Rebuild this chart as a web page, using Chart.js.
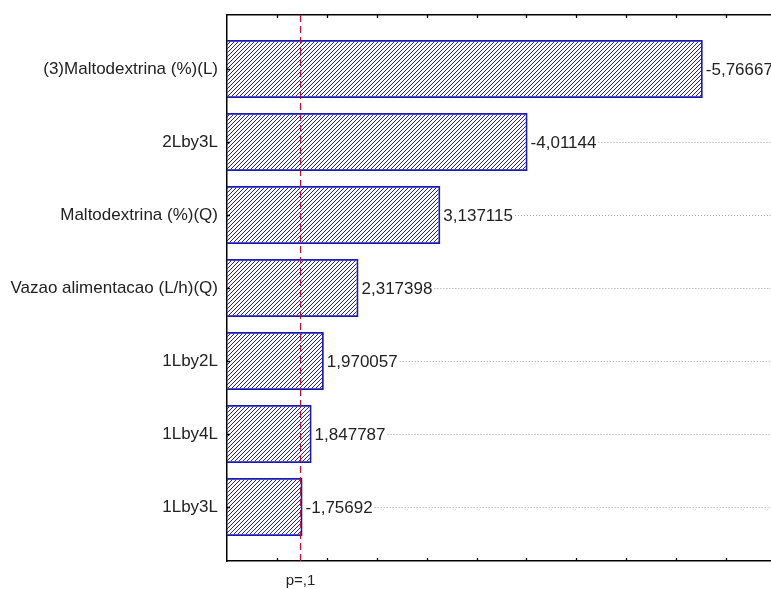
<!DOCTYPE html>
<html>
<head>
<meta charset="utf-8">
<script src="https://cdn.jsdelivr.net/npm/chart.js@4.4.0/dist/chart.umd.min.js"></script>
<style>
  html, body { margin: 0; padding: 0; background: #fff; }
  #c { display: block; }
</style>
</head>
<body>
<canvas id="c" width="771" height="589"></canvas>
<script>
// Pareto chart of standardized effects (t values), decimal comma labels
const effects = [
  '(3)Maltodextrina (%)(L)',
  '2Lby3L',
  'Maltodextrina (%)(Q)',
  'Vazao alimentacao (L/h)(Q)',
  '1Lby2L',
  '1Lby4L',
  '1Lby3L'
];
const tValues = [-5.76667, -4.01144, 3.137115, 2.317398, 1.970057, 1.847787, -1.75692];
const pLimit = 1.737;          // critical t for p = .1
const pLabel = 'p=,1';
const axisTicks = [1.5, 2, 2.5, 3, 3.5, 4, 4.5, 5, 5.5, 6];

const FONT = 'Liberation Sans, Arial, sans-serif';
const canvas = document.getElementById('c');
const ctx = canvas.getContext('2d');

// diagonal hatch fill for the bars
function hatchPattern() {
  const s = 4;
  const t = document.createElement('canvas');
  t.width = s; t.height = s;
  const g = t.getContext('2d');
  g.strokeStyle = '#23239a';
  g.lineWidth = 1;
  g.beginPath();
  g.moveTo(-1, s + 1); g.lineTo(s + 1, -1);
  g.moveTo(-1, 1); g.lineTo(1, -1);
  g.moveTo(s - 1, s + 1); g.lineTo(s + 1, s - 1);
  g.stroke();
  return ctx.createPattern(t, 'repeat');
}

const fmt = v => String(v).replace('.', ',');

// value labels with dotted leader lines, critical-value line and inward tick marks
const decorations = {
  id: 'decorations',
  afterDatasetsDraw(chart) {
    const c = chart.ctx;
    const area = chart.chartArea;
    const meta = chart.getDatasetMeta(0);
    const xs = chart.scales.x;
    const ys = chart.scales.y;

    c.save();
    c.font = '17px ' + FONT;
    c.textBaseline = 'middle';
    c.textAlign = 'left';
    meta.data.forEach((bar, i) => {
      const txt = fmt(tValues[i]);
      const tx = bar.x + 3;
      c.fillStyle = '#222';
      c.fillText(txt, tx, bar.y + 1);
      const w = c.measureText(txt).width;
      c.strokeStyle = '#a0a0a0';
      c.lineWidth = 1;
      c.setLineDash([1, 2]);
      c.beginPath();
      c.moveTo(tx + w + 2, Math.round(bar.y) + 0.5);
      c.lineTo(chart.width, Math.round(bar.y) + 0.5);
      c.stroke();
    });
    c.restore();

    // critical value line
    const px = xs.getPixelForValue(pLimit);
    c.save();
    c.strokeStyle = '#b3142e';
    c.lineWidth = 1.3;
    c.setLineDash([7, 4]);
    c.beginPath();
    c.moveTo(px, area.top);
    c.lineTo(px, area.bottom);
    c.stroke();
    c.restore();

    // inward tick marks
    c.save();
    c.strokeStyle = '#000';
    c.lineWidth = 1.3;
    c.beginPath();
    axisTicks.forEach(v => {
      const x = Math.round(xs.getPixelForValue(v)) + 0.5;
      c.moveTo(x, area.bottom); c.lineTo(x, area.bottom - 3);
      c.moveTo(x, area.top); c.lineTo(x, area.top + 3);
    });
    effects.forEach((_, i) => {
      const y = Math.round(ys.getPixelForValue(i)) + 0.5;
      c.moveTo(area.left, y); c.lineTo(area.left + 3, y);
    });
    c.stroke();
    c.restore();
  }
};

new Chart(canvas, {
  type: 'bar',
  data: {
    datasets: [{
      data: tValues.map((v, i) => ({ x: Math.abs(v), y: i })),
      backgroundColor: hatchPattern(),
      borderColor: '#1a1ab8',
      borderWidth: 1.8,
      borderSkipped: false,
      categoryPercentage: 1,
      barPercentage: 0.795
    }]
  },
  plugins: [decorations],
  options: {
    indexAxis: 'y',
    responsive: false,
    animation: false,
    events: [],
    layout: { padding: 0 },
    plugins: { legend: { display: false }, tooltip: { enabled: false } },
    scales: {
      x: {
        type: 'linear',
        position: 'bottom',
        min: 1,
        max: 6.45,
        afterBuildTicks: s => { s.ticks = [{ value: pLimit }]; },
        ticks: {
          callback: () => pLabel,
          font: { family: FONT, size: 15 },
          color: '#222',
          padding: 11,
          maxRotation: 0,
          autoSkip: false
        },
        grid: { display: false, drawTicks: false },
        border: { color: '#000', width: 1.5 },
        afterFit: s => { s.height = 28; s.paddingLeft = 0; s.paddingRight = 0; }
      },
      xTop: {
        type: 'linear',
        position: 'top',
        min: 1,
        max: 6.45,
        ticks: { display: false },
        grid: { display: false, drawTicks: false },
        border: { color: '#000', width: 1.5 },
        afterFit: s => { s.height = 15; }
      },
      y: {
        type: 'linear',
        reverse: true,
        offset: false,
        min: -0.74,
        max: 6.74,
        afterBuildTicks: s => { s.ticks = effects.map((_, i) => ({ value: i })); },
        ticks: {
          callback: v => effects[v],
          font: { family: FONT, size: 17 },
          color: '#222',
          padding: 9,
          autoSkip: false
        },
        grid: { display: false, drawTicks: false },
        border: { color: '#000', width: 1.5 },
        afterFit: s => { s.width = 227; s.paddingTop = 0; s.paddingBottom = 0; }
      }
    }
  }
});
</script>
</body>
</html>
